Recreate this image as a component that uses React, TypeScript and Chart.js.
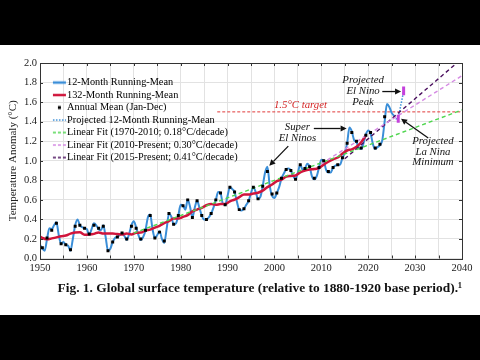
import React, { useEffect, useRef } from "react";
import { Chart, registerables } from "chart.js";

Chart.register(...registerables);

const SERIF = "'Liberation Serif', 'Times New Roman', Times, serif";

// ---------------- DATA ----------------
// 12-month running mean (°C, relative to 1880-1920)
const runMean12Years = [
  1950, 1950.5, 1951, 1951.5, 1952, 1952.5, 1953, 1953.5, 1954, 1954.5,
  1955, 1955.5, 1956, 1956.5, 1957, 1957.5, 1958, 1958.5, 1959, 1959.5,
  1960, 1960.5, 1961, 1961.5, 1962, 1962.5, 1963, 1963.5, 1964, 1964.5,
  1965, 1965.5, 1966, 1966.5, 1967, 1967.5, 1968, 1968.5, 1969, 1969.5,
  1970, 1970.5, 1971, 1971.5, 1972, 1972.5, 1973, 1973.5, 1974, 1974.5,
  1975, 1975.5, 1976, 1976.5, 1977, 1977.5, 1978, 1978.5, 1979, 1979.5,
  1980, 1980.5, 1981, 1981.5, 1982, 1982.5, 1983, 1983.5, 1984, 1984.5,
  1985, 1985.5, 1986, 1986.5, 1987, 1987.5, 1988, 1988.5, 1989, 1989.5,
  1990, 1990.5, 1991, 1991.5, 1992, 1992.5, 1993, 1993.5, 1994, 1994.5,
  1995, 1995.5, 1996, 1996.5, 1997, 1997.5, 1998, 1998.5, 1999, 1999.5,
  2000, 2000.5, 2001, 2001.5, 2002, 2002.5, 2003, 2003.5, 2004, 2004.5,
  2005, 2005.5, 2006, 2006.5, 2007, 2007.5, 2008, 2008.5, 2009, 2009.5,
  2010, 2010.5, 2011, 2011.5, 2012, 2012.5, 2013, 2013.5, 2014, 2014.5,
  2015, 2015.5, 2016, 2016.5, 2017, 2017.5, 2018, 2018.5, 2019, 2019.5,
  2020, 2020.5, 2021, 2021.5, 2022, 2022.5, 2023, 2023.5, 2024, 2024.5,
  2025, 2025.5,
];
const runMean12Values = [
  0.14, 0.10, 0.08, 0.20, 0.31, 0.30, 0.34, 0.37, 0.24, 0.15,
  0.17, 0.14, 0.13, 0.08, 0.20, 0.34, 0.40, 0.34, 0.32, 0.31,
  0.30, 0.24, 0.30, 0.36, 0.34, 0.30, 0.29, 0.34, 0.22, 0.08,
  0.10, 0.17, 0.21, 0.22, 0.24, 0.26, 0.23, 0.19, 0.25, 0.34,
  0.38, 0.32, 0.24, 0.19, 0.22, 0.29, 0.42, 0.45, 0.30, 0.21,
  0.24, 0.28, 0.20, 0.16, 0.30, 0.46, 0.43, 0.35, 0.36, 0.44,
  0.55, 0.54, 0.50, 0.60, 0.53, 0.42, 0.52, 0.59, 0.52, 0.44,
  0.40, 0.40, 0.42, 0.46, 0.52, 0.60, 0.68, 0.67, 0.56, 0.55,
  0.64, 0.73, 0.71, 0.68, 0.58, 0.50, 0.49, 0.51, 0.55, 0.59,
  0.67, 0.73, 0.68, 0.61, 0.63, 0.74, 0.88, 0.94, 0.74, 0.64,
  0.62, 0.67, 0.73, 0.82, 0.87, 0.91, 0.92, 0.90, 0.84, 0.81,
  0.88, 0.96, 0.91, 0.92, 0.97, 0.94, 0.84, 0.81, 0.84, 0.93,
  1.01, 1.00, 0.91, 0.88, 0.88, 0.93, 0.95, 0.96, 0.96, 1.03,
  1.08, 1.18, 1.34, 1.30, 1.21, 1.19, 1.13, 1.12, 1.18, 1.27,
  1.31, 1.28, 1.17, 1.12, 1.14, 1.16, 1.21, 1.40, 1.58, 1.55,
  1.49, 1.46,
];

// 132-month running mean
const runMean132Years = [
  1950, 1950.5, 1951.5, 1952.5, 1953.5, 1954.5, 1955.5, 1956.5, 1957.5, 1958.5,
  1959.5, 1960.5, 1961.5, 1962.5, 1963.5, 1964.5, 1965.5, 1966.5, 1967.5, 1968.5,
  1969.5, 1970.5, 1971.5, 1972.5, 1973.5, 1974.5, 1975.5, 1976.5, 1977.5, 1978.5,
  1979.5, 1980.5, 1981.5, 1982.5, 1983.5, 1984.5, 1985.5, 1986.5, 1987.5, 1988.5,
  1989.5, 1990.5, 1991.5, 1992.5, 1993.5, 1994.5, 1995.5, 1996.5, 1997.5, 1998.5,
  1999.5, 2000.5, 2001.5, 2002.5, 2003.5, 2004.5, 2005.5, 2006.5, 2007.5, 2008.5,
  2009.5, 2010.5, 2011.5, 2012.5, 2013.5, 2014.5, 2015.5, 2016.5, 2017.5, 2018.5,
  2019.5,
];
const runMean132Values = [
  0.225, 0.21, 0.197, 0.206, 0.216, 0.228, 0.235, 0.255, 0.265, 0.268,
  0.243, 0.245, 0.252, 0.267, 0.255, 0.255, 0.255, 0.25, 0.245, 0.257,
  0.246, 0.264, 0.265, 0.286, 0.295, 0.316, 0.335, 0.362, 0.382, 0.409,
  0.409, 0.426, 0.444, 0.482, 0.501, 0.519, 0.545, 0.558, 0.549, 0.557,
  0.557, 0.584, 0.603, 0.628, 0.655, 0.654, 0.665, 0.673, 0.694, 0.73,
  0.757, 0.791, 0.808, 0.838, 0.845, 0.849, 0.88, 0.90, 0.91, 0.915,
  0.926, 0.96, 0.99, 1.015, 1.033, 1.073, 1.105, 1.117, 1.143, 1.19,
  1.26,
];

// Annual mean (Jan-Dec)
const annualYears = [
  1950, 1951, 1952, 1953, 1954, 1955, 1956, 1957, 1958, 1959,
  1960, 1961, 1962, 1963, 1964, 1965, 1966, 1967, 1968, 1969,
  1970, 1971, 1972, 1973, 1974, 1975, 1976, 1977, 1978, 1979,
  1980, 1981, 1982, 1983, 1984, 1985, 1986, 1987, 1988, 1989,
  1990, 1991, 1992, 1993, 1994, 1995, 1996, 1997, 1998, 1999,
  2000, 2001, 2002, 2003, 2004, 2005, 2006, 2007, 2008, 2009,
  2010, 2011, 2012, 2013, 2014, 2015, 2016, 2017, 2018, 2019,
  2020, 2021, 2022, 2023,
];
const annualValues = [
  0.11, 0.21, 0.29, 0.36, 0.15, 0.14, 0.09, 0.33, 0.34, 0.31,
  0.25, 0.34, 0.31, 0.33, 0.08, 0.17, 0.22, 0.26, 0.20, 0.33,
  0.31, 0.20, 0.29, 0.44, 0.21, 0.27, 0.18, 0.46, 0.35, 0.44,
  0.54, 0.60, 0.42, 0.59, 0.44, 0.40, 0.46, 0.60, 0.67, 0.55,
  0.73, 0.68, 0.50, 0.51, 0.59, 0.73, 0.61, 0.74, 0.89, 0.66,
  0.67, 0.82, 0.91, 0.90, 0.81, 0.96, 0.92, 0.94, 0.82, 0.93,
  1.00, 0.89, 0.93, 0.96, 1.03, 1.18, 1.29, 1.20, 1.13, 1.26,
  1.29, 1.13, 1.17, 1.45,
];

// Projected 12-month running mean
const projectedYears = [2025.5, 2026.0, 2026.4, 2027.0, 2027.5];
const projectedValues = [1.46, 1.43, 1.45, 1.58, 1.70];

// Projected El Nino peak / La Nina minimum ranges
const elNinoPeakYear = 2027.55;
const elNinoPeakRange = [1.67, 1.76];
const laNinaMinYear = 2026.4;
const laNinaMinRange = [1.39, 1.47];

// Linear fits: [startYear, endYear], [startValue, endValue]
const fit1970Years = [1970, 2040];
const fit1970Values = [0.26, 1.52];
const fit2010Years = [2010, 2040];
const fit2010Values = [0.97, 1.87];
const fit2015Years = [2015, 2040];
const fit2015Values = [1.02, 2.045];

// 1.5°C target
const targetYears = [1987.8, 2040];
const targetValue = 1.5;

// Axis ticks
const xTickYears = [1950, 1960, 1970, 1980, 1990, 2000, 2010, 2020, 2030, 2040];
const yTickValues = [0, 0.2, 0.4, 0.6, 0.8, 1.0, 1.2, 1.4, 1.6, 1.8, 2.0];

const legendLabels = [
  "12-Month Running-Mean",
  "132-Month Running-Mean",
  "Annual Mean (Jan-Dec)",
  "Projected 12-Month Running-Mean",
  "Linear Fit (1970-2010; 0.18°C/decade)",
  "Linear Fit (2010-Present; 0.30°C/decade)",
  "Linear Fit (2015-Present; 0.41°C/decade)",
];

const caption = "Fig. 1. Global surface temperature (relative to 1880-1920 base period).¹";

// ---------------- STYLES ----------------
const C_BLUE = "#3a8ed8";
const C_RED = "#d0153c";
const C_GREEN = "#4fd64f";
const C_PINK = "#d58ae3";
const C_PURPLE = "#4a0f5e";
const C_MAGENTA = "#c441dc";
const C_TARGET = "#e03a3a";

const pts = (xs: number[], ys: number[]) => xs.map((x, i) => ({ x, y: ys[i] }));

function legendImg(kind: "line" | "dash" | "dot" | "square", color: string, width: number) {
  const c = document.createElement("canvas");
  c.width = 20;
  c.height = 6;
  const g = c.getContext("2d")!;
  if (kind === "square") {
    g.fillStyle = color;
    g.fillRect(11, 1.5, 3, 3);
    return c;
  }
  g.strokeStyle = color;
  g.lineWidth = width;
  if (kind === "dash") g.setLineDash([3, 2]);
  if (kind === "dot") g.setLineDash([1.5, 1.5]);
  g.beginPath();
  g.moveTo(6, 3);
  g.lineTo(19, 3);
  g.stroke();
  return c;
}

const annotationPlugin = {
  id: "figAnnotations",
  afterLayout(chart: any) {
    const lg = chart.legend;
    if (lg) {
      lg.left = 49.7;
      lg.top = 30.2;
      lg.right = 320;
      lg.bottom = chart.chartArea.bottom;
    }
  },
  afterDatasetsDraw(chart: any) {
    const { ctx, chartArea: a, scales } = chart;
    const xs = scales.x;
    const ys = scales.y;
    const px = (v: number) => xs.getPixelForValue(v);
    const py = (v: number) => ys.getPixelForValue(v);
    ctx.save();
    // inner tick marks
    ctx.strokeStyle = "#333";
    ctx.lineWidth = 1;
    ctx.beginPath();
    for (let yr = 1950; yr <= 2040; yr += 5) {
      const x = Math.round(px(yr)) + 0.5;
      ctx.moveTo(x, a.top);
      ctx.lineTo(x, a.top + 3);
      ctx.moveTo(x, a.bottom);
      ctx.lineTo(x, a.bottom - 3);
    }
    yTickValues.forEach((t) => {
      const y = Math.round(py(t)) + 0.5;
      ctx.moveTo(a.left, y);
      ctx.lineTo(a.left + 3, y);
      ctx.moveTo(a.right, y);
      ctx.lineTo(a.right - 3, y);
    });
    ctx.stroke();
    // frame
    ctx.strokeStyle = "#333";
    ctx.strokeRect(Math.round(a.left) + 0.5, Math.round(a.top) + 0.5, Math.round(a.right - a.left), Math.round(a.bottom - a.top));

    // texts
    ctx.textAlign = "center";
    ctx.textBaseline = "middle";
    ctx.font = `italic 10.8px ${SERIF}`;
    ctx.fillStyle = "#d42424";
    ctx.fillText("1.5°C target", px(2005.55), py(1.564));
    ctx.fillStyle = "#111";
    const blocks: { x: number; ys: number[]; lines: string[] }[] = [
      { x: 2018.9, ys: [1.824, 1.708, 1.6], lines: ["Projected", "El Nino", "Peak"] },
      { x: 2004.9, ys: [1.346, 1.232], lines: ["Super", "El Ninos"] },
      { x: 2033.8, ys: [1.2, 1.093, 0.988], lines: ["Projected", "La Nina", "Minimum"] },
    ];
    blocks.forEach((b) => b.lines.forEach((t, i) => ctx.fillText(t, px(b.x), py(b.ys[i]))));

    // arrows
    const arrow = (x1: number, y1: number, x2: number, y2: number) => {
      const X1 = px(x1), Y1 = py(y1), X2 = px(x2), Y2 = py(y2);
      const ang = Math.atan2(Y2 - Y1, X2 - X1);
      const hl = 6, hw = 3;
      const bx = X2 - hl * Math.cos(ang), by = Y2 - hl * Math.sin(ang);
      ctx.strokeStyle = "#111";
      ctx.fillStyle = "#111";
      ctx.lineWidth = 1.3;
      ctx.beginPath();
      ctx.moveTo(X1, Y1);
      ctx.lineTo(bx, by);
      ctx.stroke();
      ctx.beginPath();
      ctx.moveTo(X2, Y2);
      ctx.lineTo(bx + hw * Math.sin(ang), by - hw * Math.cos(ang));
      ctx.lineTo(bx - hw * Math.sin(ang), by + hw * Math.cos(ang));
      ctx.closePath();
      ctx.fill();
    };
    arrow(2023.0, 1.708, 2027.0, 1.708);
    arrow(2008.4, 1.33, 2015.4, 1.33);
    arrow(2002.95, 1.15, 1998.9, 0.95);
    arrow(2032.8, 1.232, 2027.0, 1.43);
    ctx.restore();
  },
};

export default function App() {
  const ref = useRef<HTMLCanvasElement | null>(null);

  useEffect(() => {
    if (!ref.current) return;
    const imgs = [
      legendImg("line", C_BLUE, 2.5),
      legendImg("line", C_RED, 2.5),
      legendImg("square", "#000", 1),
      legendImg("dot", C_BLUE, 1.5),
      legendImg("dash", C_GREEN, 1.5),
      legendImg("dash", C_PINK, 1.5),
      legendImg("dash", C_PURPLE, 1.5),
    ];
    const lineBase = { pointRadius: 0, fill: false, showLine: true };
    const chart = new Chart(ref.current, {
      type: "scatter",
      data: {
        datasets: [
          {
            label: legendLabels[2],
            data: pts(annualYears.map((y) => y + 0.5), annualValues),
            pointStyle: "rect",
            pointRadius: 2.1,
            backgroundColor: "#000",
            borderColor: "#000",
            borderWidth: 0,
            showLine: false,
            order: 0,
          },
          {
            label: "El Nino peak",
            data: pts([elNinoPeakYear, elNinoPeakYear], elNinoPeakRange),
            ...lineBase,
            borderColor: C_MAGENTA,
            borderWidth: 3,
            order: 1,
          },
          {
            label: "La Nina minimum",
            data: pts([laNinaMinYear, laNinaMinYear], laNinaMinRange),
            ...lineBase,
            borderColor: C_MAGENTA,
            borderWidth: 3,
            order: 1,
          },
          {
            label: legendLabels[4],
            data: pts(fit1970Years, fit1970Values),
            ...lineBase,
            borderColor: C_GREEN,
            borderWidth: 1.4,
            borderDash: [4, 3],
            order: 2,
          },
          {
            label: legendLabels[5],
            data: pts(fit2010Years, fit2010Values),
            ...lineBase,
            borderColor: C_PINK,
            borderWidth: 1.4,
            borderDash: [4, 3],
            order: 2,
          },
          {
            label: legendLabels[6],
            data: pts(fit2015Years, fit2015Values),
            ...lineBase,
            borderColor: C_PURPLE,
            borderWidth: 1.4,
            borderDash: [4, 3],
            order: 2,
          },
          {
            label: legendLabels[1],
            data: pts(runMean132Years, runMean132Values),
            ...lineBase,
            borderColor: C_RED,
            borderWidth: 2.5,
            cubicInterpolationMode: "monotone",
            order: 3,
          },
          {
            label: legendLabels[0],
            data: pts(runMean12Years, runMean12Values),
            ...lineBase,
            borderColor: C_BLUE,
            borderWidth: 2,
            cubicInterpolationMode: "monotone",
            order: 4,
          },
          {
            label: legendLabels[3],
            data: pts(projectedYears, projectedValues),
            ...lineBase,
            borderColor: C_BLUE,
            borderWidth: 1.5,
            borderDash: [1.5, 1.5],
            cubicInterpolationMode: "monotone",
            order: 5,
          },
          {
            label: "1.5°C target",
            data: pts(targetYears, [targetValue, targetValue]),
            ...lineBase,
            borderColor: C_TARGET,
            borderWidth: 1,
            borderDash: [3, 2],
            order: 6,
          },
        ] as any,
      },
      options: {
        responsive: false,
        maintainAspectRatio: false,
        devicePixelRatio: 1,
        animation: false,
        events: [],
        layout: { padding: { top: 18, right: 18, left: 0, bottom: 9.2 } },
        scales: {
          x: {
            type: "linear",
            min: 1950,
            max: 2040,
            afterBuildTicks: (s: any) => {
              const t: any[] = [];
              for (let v = 1950; v <= 2040; v += 5) t.push({ value: v });
              s.ticks = t;
            },
            afterFit: (s: any) => {
              s.height = 22.2;
            },
            ticks: {
              autoSkip: false,
              maxRotation: 0,
              padding: 3,
              color: "#222",
              font: { family: SERIF, size: 10.5 },
              callback: (v: any) => (xTickYears.includes(Number(v)) ? String(v) : ""),
            },
            grid: { color: "#e2e2e2", drawTicks: false },
            border: { display: false },
          },
          y: {
            type: "linear",
            min: 0,
            max: 2,
            afterBuildTicks: (s: any) => {
              s.ticks = yTickValues.map((v) => ({ value: v }));
            },
            afterFit: (s: any) => {
              s.width = 40;
            },
            ticks: {
              padding: 3,
              color: "#222",
              font: { family: SERIF, size: 10.5 },
              callback: (v: any) => Number(v).toFixed(1),
            },
            grid: { color: "#e2e2e2", drawTicks: false },
            border: { display: false },
            title: {
              display: true,
              text: "Temperature Anomaly (°C)",
              color: "#222",
              font: { family: SERIF, size: 11 },
              padding: { top: 7, bottom: 0 },
            },
          },
        },
        plugins: {
          legend: {
            display: true,
            position: "chartArea",
            align: "start",
            labels: {
              usePointStyle: true,
              pointStyleWidth: 10,
              boxHeight: 10,
              padding: 2.2,
              color: "#111",
              font: { family: SERIF, size: 10.3 },
              generateLabels: () =>
                legendLabels.map((text, i) => ({
                  text,
                  pointStyle: imgs[i],
                  fillStyle: "#000",
                  strokeStyle: "#000",
                  lineWidth: 0,
                  hidden: false,
                  datasetIndex: 0,
                })),
            },
          },
          title: {
            display: true,
            text: caption,
            position: "bottom",
            align: "end",
            color: "#111",
            font: { family: SERIF, size: 13.4, weight: "bold" },
            padding: { top: 0, bottom: 9 },
          },
          tooltip: { enabled: false },
        },
      } as any,
      plugins: [annotationPlugin],
    });
    return () => chart.destroy();
  }, []);

  return (
    <div style={{ position: "fixed", left: 0, top: 0, width: 480, height: 360, background: "#000" }}>
      <div style={{ position: "absolute", left: 0, top: 45, width: 480, height: 270, background: "#fff" }}>
        <canvas ref={ref} width={480} height={270} style={{ display: "block", width: 480, height: 270 }} />
      </div>
    </div>
  );
}
